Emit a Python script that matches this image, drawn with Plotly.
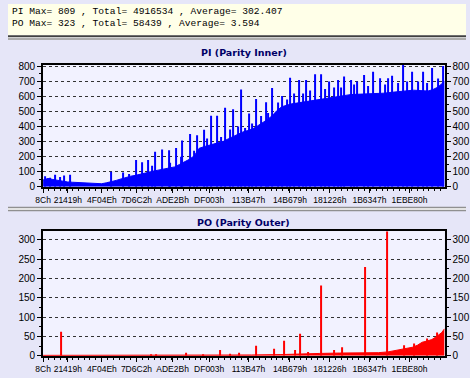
import plotly.graph_objects as go

# ---------------- data (x in thousands of LBA) ----------------
header_lines = ["PI Max= 809 , Total= 4916534 , Average= 302.407",
                "PO Max= 323 , Total= 58439 , Average= 3.594"]

tick_labels = ["8Ch", "21419h", "4F04Eh", "7D6C2h", "ADE2Bh", "DF003h",
               "113B47h", "14B679h", "181226h", "1B6347h", "1EBE80h"]

pi_base_k = [0, 27, 54, 80, 107, 134, 161, 188, 214, 241, 268, 295, 322, 348, 375,
             402, 429, 456, 482, 509, 536, 563, 590, 616, 643, 670, 697, 724, 750,
             777, 804, 831, 858, 884, 911, 938, 965, 992, 1018, 1045, 1072, 1099,
             1126, 1152, 1179, 1206, 1233, 1260, 1286, 1313, 1340, 1367, 1394, 1420,
             1447, 1474, 1501, 1528, 1554, 1581, 1608, 1635, 1662, 1688, 1715, 1742,
             1769, 1796, 1822, 1849, 1876, 1903, 1930, 1956, 1983, 2010, 2037, 2064,
             2090, 2117, 2144, 2171, 2198, 2208]
pi_base_v = [45, 55, 48, 42, 35, 32, 30, 28, 28, 25, 22, 22, 20, 26, 32, 42, 52, 62,
             70, 76, 86, 91, 100, 106, 114, 120, 126, 132, 148, 164, 182, 205, 255,
             266, 276, 282, 292, 302, 318, 334, 352, 364, 374, 384, 404, 424, 446, 472,
             506, 532, 542, 551, 556, 561, 566, 573, 579, 583, 589, 594, 599, 605, 609,
             612, 614, 615, 614, 616, 618, 620, 622, 626, 629, 633, 637, 640, 642, 640,
             636, 636, 646, 662, 690, 700]

pi_spike_k = [11, 38, 64, 91, 118, 150, 375, 439, 472, 509, 547, 579, 616, 654, 691,
              729, 766, 809, 847, 884, 922, 959, 1002, 1045, 1088, 1134, 1174, 1227,
              1259, 1317, 1357, 1406, 1447, 1495, 1527, 1572, 1620, 1656, 1692, 1727,
              1763, 1813, 1853, 1897, 1920, 1978, 2031, 2088, 2142, 2201,
              # smaller texture peaks
              600, 700, 760, 830, 900, 980, 1030, 1070, 1110, 1150, 1200, 1240,
              1290, 1340, 1380, 1430, 1470, 1550, 1600, 1640, 1710, 1790, 1880,
              1950, 2000, 2060, 2110, 2170]
pi_spike_v = [70, 60, 80, 65, 75, 80, 100, 95, 85, 178, 162, 178, 232, 248, 242,
              258, 308, 350, 342, 378, 472, 472, 525, 515, 646, 487, 583, 561,
              657, 604, 725, 710, 710, 747, 747, 700, 710, 732, 710, 700,
              742, 764, 721, 721, 738, 809, 764, 764, 790, 802,
              140, 160, 200, 240, 320, 330, 380, 400, 390, 420, 470, 490,
              560, 580, 620, 620, 640, 650, 660, 660, 680, 670, 680,
              690, 700, 700, 690, 720]

po_base_k = [0, 611, 1147, 1308, 1415, 1522, 1629, 1736, 1844, 1897, 1924, 1951,
             1977, 2004, 2031, 2058, 2085, 2111, 2138, 2165, 2192, 2208]
po_base_v = [1, 1, 2, 3, 5, 6, 7, 7, 8, 10, 12, 15, 16, 19, 22, 27, 35, 38, 42, 50,
             60, 70]

po_spike_k = [98, 593, 620, 788, 879, 975, 1029, 1077, 1170, 1268, 1325, 1384, 1415,
              1456, 1531, 1602, 1647, 1772, 1893, 1987, 2040, 2111, 2165]
po_spike_v = [62, 4, 4, 8, 3, 15, 5, 8, 26, 18, 39, 15, 57, 10, 182, 15, 22, 230,
              323, 27, 32, 45, 60]

PI_MAX, PO_MAX = 809, 323
X_END_K = 2208

# ---------------- figure ----------------
W, H = 470, 378
def py(p):  # pixel y -> paper
    return (H - p) / H

tick_vals = [int(t[:-1], 16) for t in tick_labels]
to_lba = lambda ks: [k * 1000 for k in ks]

fig = go.Figure()
fig.add_trace(go.Scatter(x=to_lba(pi_base_k), y=pi_base_v, mode="lines",
                         line=dict(color="#0000FF", width=1), fill="tozeroy",
                         fillcolor="#0000FF", xaxis="x", yaxis="y", hoverinfo="skip"))
fig.add_trace(go.Bar(x=to_lba(pi_spike_k), y=pi_spike_v, width=5600,
                     marker=dict(color="#0000FF", line=dict(width=0)),
                     xaxis="x", yaxis="y", hoverinfo="skip"))
fig.add_trace(go.Scatter(x=to_lba(po_base_k), y=po_base_v, mode="lines",
                         line=dict(color="#FF0000", width=1), fill="tozeroy",
                         fillcolor="#FF0000", xaxis="x2", yaxis="y2", hoverinfo="skip"))
fig.add_trace(go.Bar(x=to_lba(po_spike_k), y=po_spike_v, width=5600,
                     marker=dict(color="#FF0000", line=dict(width=0)),
                     xaxis="x2", yaxis="y2", hoverinfo="skip"))

xfont = dict(family="Liberation Sans, Arial", size=8.5, color="black")
yfont = dict(family="Liberation Sans, Arial", size=10, color="black")
xdom = [36 / W, 448 / W]

def xax(anchor):
    return dict(domain=xdom, anchor=anchor, range=[0, X_END_K * 1000],
                tickmode="array", tickvals=tick_vals, ticktext=tick_labels,
                tickangle=0,
                ticks="outside", ticklen=4, tickcolor="black", tickwidth=1,
                showline=True, linecolor="black", linewidth=2, mirror=True,
                showgrid=False, zeroline=False, tickfont=xfont, fixedrange=True,
                minor=dict(tickmode="linear", tick0=0, dtick=32150, ticks="outside",
                           ticklen=2, tickcolor="black"))

def yax(dom, rng, dt, anchor, side="left", overlay=None, grid=True):
    d = dict(domain=dom, anchor=anchor, range=[0, rng], dtick=dt, tick0=0,
             ticks="outside", ticklen=4, tickcolor="black", side=side,
             showline=True, linecolor="black", linewidth=2,
             showgrid=grid, gridcolor="#333333", griddash="3px,3px", gridwidth=1,
             zeroline=False, tickfont=yfont, fixedrange=True,
             minor=dict(dtick=dt / 2, ticks="outside", ticklen=2, tickcolor="black"))
    if overlay:
        d["overlaying"] = overlay
    return d

pi_dom = [py(187.7), py(62.7)]
po_dom = [py(361.3), py(233.3)]

fig.update_layout(
    width=W, height=H, margin=dict(l=0, r=0, t=0, b=0),
    paper_bgcolor="#E6E6F8", plot_bgcolor="#F2F2FF",
    showlegend=False, barmode="overlay",
    xaxis=xax("y"), yaxis=yax(pi_dom, PI_MAX, 100, "x"),
    xaxis2=xax("y2"), yaxis2=yax(po_dom, PO_MAX, 50, "x2"),
    yaxis3=yax(pi_dom, PI_MAX, 100, "x", side="right", overlay="y", grid=False),
    yaxis4=yax(po_dom, PO_MAX, 50, "x2", side="right", overlay="y2", grid=False),
)
# invisible traces so the right-hand axes render
fig.add_trace(go.Scatter(x=[0], y=[0], mode="markers", marker=dict(opacity=0),
                         xaxis="x", yaxis="y3", hoverinfo="skip"))
fig.add_trace(go.Scatter(x=[0], y=[0], mode="markers", marker=dict(opacity=0),
                         xaxis="x2", yaxis="y4", hoverinfo="skip"))

shapes = [
    dict(type="rect", xref="paper", yref="paper", x0=0, x1=1, y0=py(32), y1=1,
         fillcolor="#FFFFE8", line=dict(width=0), layer="below"),
    dict(type="rect", xref="paper", yref="paper", x0=0, x1=1, y0=py(37), y1=py(32),
         fillcolor="#FFFFFF", line=dict(width=0), layer="below"),
    dict(type="line", xref="paper", yref="paper", x0=0, x1=1, y0=py(33), y1=py(33),
         line=dict(color="#404040", width=2)),
    dict(type="line", xref="paper", yref="paper", x0=0, x1=1, y0=py(36), y1=py(36),
         line=dict(color="#909090", width=1.5)),
    dict(type="rect", xref="paper", yref="paper", x0=0, x1=1, y0=py(212), y1=py(208.5),
         fillcolor="#FFFFFF", line=dict(width=0), layer="below"),
    dict(type="line", xref="paper", yref="paper", x0=0, x1=1, y0=py(209), y1=py(209),
         line=dict(color="#909090", width=1.5)),
    dict(type="line", xref="paper", yref="paper", x0=0, x1=1, y0=py(212), y1=py(212),
         line=dict(color="#909090", width=1.5)),
]
fig.update_layout(shapes=shapes)

mono = dict(family="Liberation Mono, Courier New, monospace", size=9.6, color="black")
ann = [
    dict(text=header_lines[0], x=2 / W, y=py(7.5), xref="paper", yref="paper",
         xanchor="left", yanchor="middle", showarrow=False, font=mono),
    dict(text=header_lines[1], x=2 / W, y=py(20.5), xref="paper", yref="paper",
         xanchor="left", yanchor="middle", showarrow=False, font=mono),
    dict(text="<b>PI (Parity Inner)</b>", x=242 / W, y=py(50), xref="paper",
         yref="paper", xanchor="center", yanchor="middle", showarrow=False,
         font=dict(family="DejaVu Sans", size=9.5, color="#000066")),
    dict(text="<b>PO (Parity Outer)</b>", x=242 / W, y=py(224), xref="paper",
         yref="paper", xanchor="center", yanchor="middle", showarrow=False,
         font=dict(family="DejaVu Sans", size=9.5, color="#000066")),
]
fig.update_layout(annotations=ann)

fig.write_html("out.html", config={"displayModeBar": False},
               post_script="document.body.style.margin='0';"
                           "document.body.style.padding='0';"
                           "document.body.style.overflow='hidden';")
